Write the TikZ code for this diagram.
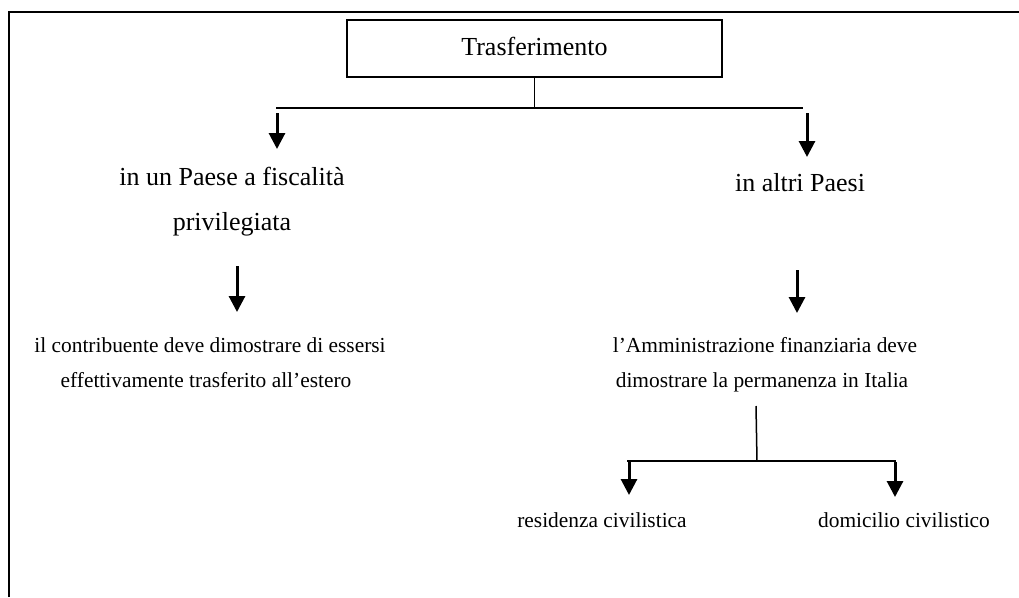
\documentclass[tikz,border=0pt]{standalone}
\usepackage{fontspec}
\setmainfont{Liberation Serif}
\usetikzlibrary{arrows.meta}
\begin{document}
\begin{tikzpicture}[x=1pt,y=-1pt,
  frame/.style={line width=2.5pt},
  branch/.style={line width=1.5pt},
  down/.style={line width=3pt,-{Triangle[width=16pt,length=16pt]}},
  bigtxt/.style={font=\fontsize{26}{30}\selectfont,anchor=base,inner sep=0pt},
  smalltxt/.style={font=\fontsize{21.4}{25}\selectfont,anchor=base,inner sep=0pt},
  topbox/.style={draw,line width=1.5pt,minimum width=375pt,minimum height=57pt,
    text height=18pt,text depth=4pt,inner sep=0pt,font=\fontsize{26}{30}\selectfont}]
\useasboundingbox (0,0) rectangle (1019,597);
% open page frame
\coordinate (fbl) at (9,597);
\coordinate (ftl) at (9,12);
\coordinate (ftr) at (1019,12);
\draw[frame] (fbl) -- (ftl) -- (ftr);

% root
\node[topbox] (root) at (534.5,48.5) {Trasferimento};
\coordinate (j1) at (root.south |- 0,108);
\coordinate (l1) at (276,108);
\coordinate (r1) at (803,108);
\draw[branch] (root.south) -- (j1);
\draw[branch] (l1) -- (r1);

% first level
\node[bigtxt] (pA1) at (232,185) {in un Paese a fiscalità};
\node[bigtxt] (pA2) at (232,230) {privilegiata};
\node[bigtxt] (pB) at (800,191) {in altri Paesi};
\coordinate (a1s) at (277,113);
\coordinate (a1e) at (277,149);
\coordinate (b1s) at (807,113);
\coordinate (b1e) at (807,157);
\draw[down] (a1s) -- (a1e);
\draw[down] (b1s) -- (b1e);

% second level
\coordinate (a2s) at (237,266);
\coordinate (a2e) at (237,312);
\coordinate (b2s) at (797,270);
\coordinate (b2e) at (797,313);
\draw[down] (a2s) -- (a2e);
\draw[down] (b2s) -- (b2e);
\node[smalltxt] (cA1) at (210,352) {il contribuente deve dimostrare di essersi};
\node[smalltxt] (cA2) at (206,387) {effettivamente trasferito all’estero};
\node[smalltxt] (cB1) at (765,352) {l’Amministrazione finanziaria deve};
\node[smalltxt] (cB2) at (762,387) {dimostrare la permanenza in Italia};

% third level
\coordinate (j3t) at (756,406);
\coordinate (j3b) at (757,461);
\coordinate (l3) at (627,461);
\coordinate (r3) at (896,461);
\draw[branch] (j3t) -- (j3b);
\draw[branch] (l3) -- (r3);
\coordinate (a3s) at (629,462);
\coordinate (a3e) at (629,495);
\coordinate (b3s) at (895,462);
\coordinate (b3e) at (895,497);
\draw[down] (a3s) -- (a3e);
\draw[down] (b3s) -- (b3e);
\node[smalltxt] (dA) at (602,527) {residenza civilistica};
\node[smalltxt] (dB) at (904,527) {domicilio civilistico};
\end{tikzpicture}
\end{document}
